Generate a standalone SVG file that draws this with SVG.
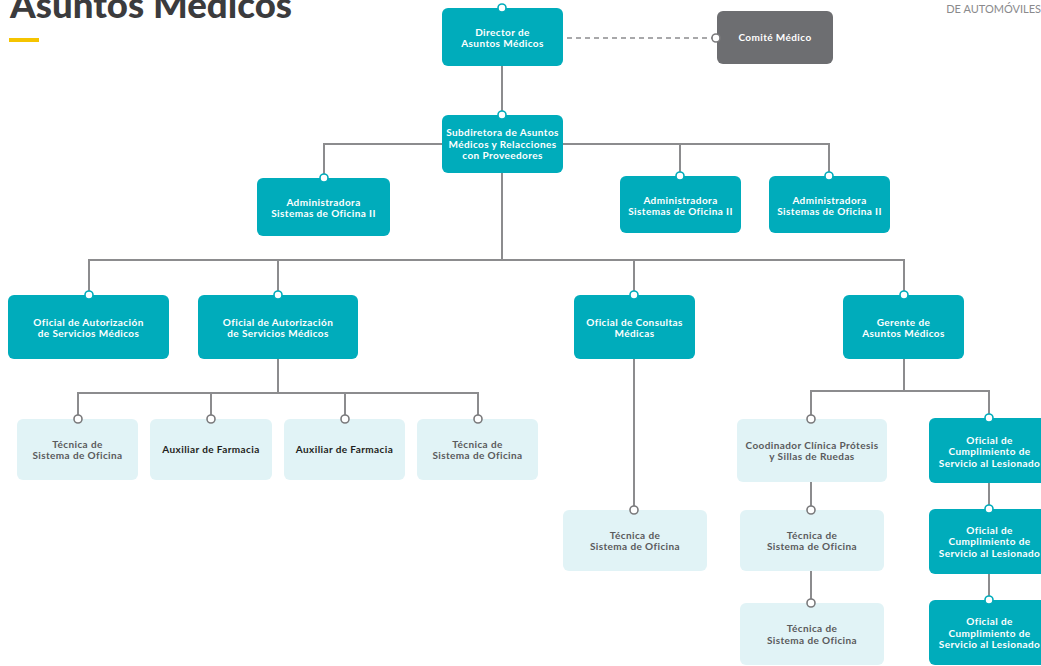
<svg xmlns="http://www.w3.org/2000/svg" width="1041" height="666" viewBox="0 0 1041 666">
  <style>
    .t { font-family: Lato, "Open Sans", "Liberation Sans", sans-serif; font-weight: 700; font-size: 10px; text-anchor: middle; letter-spacing: 0.4px; }
    .w { fill: #ffffff; }
    .g { fill: #5a5a5c; }
    .k { fill: #1e1e20; }
    .teal { fill: #00acbb; }
    .pale { fill: #e1f3f6; }
    .grey { fill: #6d6e71; }
    .line { fill: none; stroke: #8c8c8e; stroke-width: 2; }
    .dash { fill: none; stroke: #8c8c8e; stroke-width: 1.5; stroke-dasharray: 5 4; }
    .pt { fill: #ffffff; stroke: #00acbb; stroke-width: 1.6; }
    .pg { fill: #ffffff; stroke: #7a7a7c; stroke-width: 1.6; }
  </style>

  <rect width="1041" height="666" fill="#ffffff"/>

  <!-- heading -->
  <g id="heading">
    <text x="10" y="18" font-family="Lato, 'Liberation Sans', sans-serif" font-weight="900" font-size="36" fill="#3b3b3d" textLength="282" lengthAdjust="spacingAndGlyphs">Asuntos Médicos</text>
    <rect x="9" y="38" width="30" height="4" fill="#f5c400"/>
    <text x="1041" y="13" font-family="Lato, 'Liberation Sans', sans-serif" font-size="11" fill="#8a8a8c" text-anchor="end">DE AUTOMÓVILES</text>
  </g>

  <!-- connectors -->
  <g id="connectors">
    <path class="dash" d="M567 38 H712"/>
    <path class="line" d="M502 66 V115"/>
    <path class="line" d="M324 178 V144 H829 V176 M680 144 V176"/>
    <path class="line" d="M502 173 V260 M89 295 V260 H904 V295 M278 260 V295 M634 260 V295"/>
    <path class="line" d="M278 359 V393 M78 419 V393 H478 V419 M211 393 V419 M345 393 V419"/>
    <path class="line" d="M634 359 V510"/>
    <path class="line" d="M904 359 V391 M811 419 V391 H989 V419"/>
    <path class="line" d="M811 482 V510 M811 571 V603"/>
    <path class="line" d="M989 483 V509 M989 574 V600"/>
  </g>

  <!-- level 0 -->
  <g id="director">
    <rect class="teal" x="442" y="8" width="121" height="58" rx="6"/>
    <circle class="pt" cx="502" cy="8" r="4"/>
    <text class="t w" x="502.5" y="35.5">Director de</text>
    <text class="t w" x="502.5" y="46.5">Asuntos Médicos</text>
  </g>
  <g id="comite">
    <rect class="grey" x="717" y="11" width="116" height="53" rx="6"/>
    <circle class="pg" cx="716" cy="38" r="4"/>
    <text class="t w" x="775" y="41">Comité Médico</text>
  </g>

  <!-- level 1 -->
  <g id="subdirectora">
    <rect class="teal" x="442" y="115" width="121" height="58" rx="6"/>
    <circle class="pt" cx="502" cy="115" r="4"/>
    <text class="t w" x="502.5" y="136">Subdiretora de Asuntos</text>
    <text class="t w" x="502.5" y="147.5">Médicos y Relacciones</text>
    <text class="t w" x="502.5" y="159">con Proveedores</text>
  </g>

  <!-- administration -->
  <g id="admin-1">
    <rect class="teal" x="257" y="178" width="133" height="58" rx="6"/>
    <circle class="pt" cx="324" cy="178" r="4"/>
    <text class="t w" x="323.5" y="206">Administradora</text>
    <text class="t w" x="323.5" y="217">Sistemas de Oficina II</text>
  </g>
  <g id="admin-2">
    <rect class="teal" x="620" y="176" width="121" height="57" rx="6"/>
    <circle class="pt" cx="680" cy="176" r="4"/>
    <text class="t w" x="680.5" y="203.5">Administradora</text>
    <text class="t w" x="680.5" y="214.5">Sistemas de Oficina II</text>
  </g>
  <g id="admin-3">
    <rect class="teal" x="769" y="176" width="121" height="57" rx="6"/>
    <circle class="pt" cx="829" cy="176" r="4"/>
    <text class="t w" x="829.5" y="203.5">Administradora</text>
    <text class="t w" x="829.5" y="214.5">Sistemas de Oficina II</text>
  </g>

  <!-- level 2 -->
  <g id="oficial-autorizacion-1">
    <rect class="teal" x="8" y="295" width="161" height="64" rx="6"/>
    <circle class="pt" cx="89" cy="295" r="4"/>
    <text class="t w" x="88.5" y="326">Oficial de Autorización</text>
    <text class="t w" x="88.5" y="337">de Servicios Médicos</text>
  </g>
  <g id="oficial-autorizacion-2">
    <rect class="teal" x="198" y="295" width="160" height="64" rx="6"/>
    <circle class="pt" cx="278" cy="295" r="4"/>
    <text class="t w" x="278" y="326">Oficial de Autorización</text>
    <text class="t w" x="278" y="337">de Servicios Médicos</text>
  </g>
  <g id="oficial-consultas">
    <rect class="teal" x="574" y="295" width="121" height="64" rx="6"/>
    <circle class="pt" cx="634" cy="295" r="4"/>
    <text class="t w" x="634.5" y="326">Oficial de Consultas</text>
    <text class="t w" x="634.5" y="337">Médicas</text>
  </g>
  <g id="gerente">
    <rect class="teal" x="843" y="295" width="121" height="64" rx="6"/>
    <circle class="pt" cx="904" cy="295" r="4"/>
    <text class="t w" x="903.5" y="326">Gerente de</text>
    <text class="t w" x="903.5" y="337">Asuntos Médicos</text>
  </g>

  <!-- level 3 -->
  <g id="tecnica-1">
    <rect class="pale" x="17" y="419" width="121" height="61" rx="6"/>
    <circle class="pg" cx="78" cy="419" r="4"/>
    <text class="t g" x="77.5" y="447.5">Técnica de</text>
    <text class="t g" x="77.5" y="459">Sistema de Oficina</text>
  </g>
  <g id="auxiliar-1">
    <rect class="pale" x="150" y="419" width="122" height="61" rx="6"/>
    <circle class="pg" cx="211" cy="419" r="4"/>
    <text class="t k" x="211" y="453">Auxiliar de Farmacia</text>
  </g>
  <g id="auxiliar-2">
    <rect class="pale" x="284" y="419" width="121" height="61" rx="6"/>
    <circle class="pg" cx="345" cy="419" r="4"/>
    <text class="t k" x="344.5" y="453">Auxiliar de Farmacia</text>
  </g>
  <g id="tecnica-2">
    <rect class="pale" x="417" y="419" width="121" height="61" rx="6"/>
    <circle class="pg" cx="478" cy="419" r="4"/>
    <text class="t g" x="477.5" y="447.5">Técnica de</text>
    <text class="t g" x="477.5" y="459">Sistema de Oficina</text>
  </g>
  <g id="tecnica-consultas">
    <rect class="pale" x="563" y="510" width="144" height="61" rx="6"/>
    <circle class="pg" cx="634" cy="510" r="4"/>
    <text class="t g" x="635" y="538.5">Técnica de</text>
    <text class="t g" x="635" y="550">Sistema de Oficina</text>
  </g>
  <g id="coordinador">
    <rect class="pale" x="737" y="419" width="150" height="63" rx="6"/>
    <circle class="pg" cx="811" cy="419" r="4"/>
    <text class="t g" x="812" y="448.5">Coodinador Clínica Prótesis</text>
    <text class="t g" x="812" y="460">y Sillas de Ruedas</text>
  </g>
  <g id="tecnica-3">
    <rect class="pale" x="740" y="510" width="144" height="61" rx="6"/>
    <circle class="pg" cx="811" cy="510" r="4"/>
    <text class="t g" x="812" y="538.5">Técnica de</text>
    <text class="t g" x="812" y="550">Sistema de Oficina</text>
  </g>
  <g id="tecnica-4">
    <rect class="pale" x="740" y="603" width="144" height="62" rx="6"/>
    <circle class="pg" cx="811" cy="603" r="4"/>
    <text class="t g" x="812" y="632">Técnica de</text>
    <text class="t g" x="812" y="643.5">Sistema de Oficina</text>
  </g>
  <g id="cumplimiento-1">
    <rect class="teal" x="929" y="418" width="121" height="65" rx="6"/>
    <circle class="pt" cx="989" cy="418" r="4"/>
    <text class="t w" x="989.5" y="443.5">Oficial de</text>
    <text class="t w" x="989.5" y="455">Cumplimiento de</text>
    <text class="t w" x="989.5" y="466.5">Servicio al Lesionado</text>
  </g>
  <g id="cumplimiento-2">
    <rect class="teal" x="929" y="509" width="121" height="65" rx="6"/>
    <circle class="pt" cx="989" cy="509" r="4"/>
    <text class="t w" x="989.5" y="533.5">Oficial de</text>
    <text class="t w" x="989.5" y="545">Cumplimiento de</text>
    <text class="t w" x="989.5" y="556.5">Servicio al Lesionado</text>
  </g>
  <g id="cumplimiento-3">
    <rect class="teal" x="929" y="600" width="121" height="65" rx="6"/>
    <circle class="pt" cx="989" cy="600" r="4"/>
    <text class="t w" x="989.5" y="625">Oficial de</text>
    <text class="t w" x="989.5" y="636.5">Cumplimiento de</text>
    <text class="t w" x="989.5" y="648">Servicio al Lesionado</text>
  </g>
</svg>
